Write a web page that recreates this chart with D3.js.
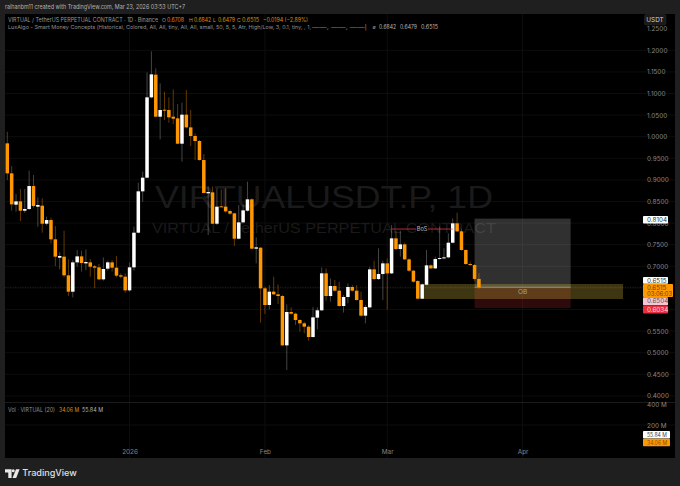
<!DOCTYPE html>
<html><head><meta charset="utf-8">
<script src="https://cdn.jsdelivr.net/npm/d3@7"></script>
<style>html,body{margin:0;padding:0;background:#1f1f1f}svg{display:block}text{font-family:Inter,"Liberation Sans",sans-serif}</style>
</head><body><svg id="c" width="680" height="486"></svg>
<script>
const startDate = "2025-12-04";
const opens = [.9846,.9152,.8426,.8503,.8287,.8326,.8858,.8380,.8403,.7986,.8071,.7624,.7199,.7223,.6791,.6412,.7091,.7230,.7068,.7091,.6999,.6976,.6698,.6945,.7091,.6968,.6791,.6760,.6443,.6976,.7778,.8735,.9051,1.0911,1.1436,1.0463,1.0625,1.0618,1.0463,1.0425,.9838,1.0510,1.0216,1.0016,.9900,.9460,.8689,.8712,.7986,.8388,.8380,.8280,.8226,.7639,.8017,.8287,.8550,.7408,.7431,.6490,.6104,.6413,.6351,.6312,.5170,.5942,.5903,.5757,.5680,.5602,.5363,.5811,.5981,.6837,.6312,.6544,.6436,.6081,.6289,.6521,.6436,.6220,.5857,.6049,.6929,.6705,.6821,.7068,.6836,.7647,.7400,.7508,.7161,.6898,.6659,.6250,.6574,.7022,.6952,.7168,.7184,.7207,.7546,.7994,.7809,.7377,.7053,.7029,.6708];
const highs = [1.0116,.9321,.8673,.8789,.8789,.9213,.9113,.8596,.8573,.8149,.8125,.7932,.7323,.7824,.7161,.7145,.7377,.7361,.7392,.7169,.7030,.7053,.7207,.7130,.7145,.7238,.6837,.6837,.7084,.7917,.8936,.9190,1.1490,1.1976,1.1582,1.1235,1.1042,1.0911,1.1096,1.0756,1.0787,1.1081,1.0618,1.0078,.9923,.9599,.8858,.8843,.8804,.8781,.8804,.8318,.8241,.8418,.8418,.8959,.8573,.7670,.7439,.6528,.6567,.6760,.6582,.6336,.6119,.6050,.5927,.5772,.5718,.5641,.6050,.6050,.6976,.6953,.6721,.6683,.6644,.6336,.6605,.6567,.6567,.6413,.6104,.6991,.7130,.7415,.7130,.7184,.7955,.7824,.7824,.7546,.7184,.6914,.6682,.6605,.7377,.7045,.7222,.7917,.7415,.7762,.8110,.8241,.7878,.7392,.7107,.7053,.6842];
const lows = [.8997,.8287,.8264,.8048,.8241,.8303,.8357,.7917,.7778,.7948,.7531,.7007,.6929,.6744,.6312,.6281,.6991,.6875,.6914,.6760,.6490,.6682,.6667,.6899,.6875,.6744,.6721,.6389,.6412,.6899,.7763,.8496,.9036,1.0888,1.0448,.9939,1.0386,1.0324,1.0294,.9831,.9422,1.0193,.9784,.9460,.9445,.8689,.7724,.7979,.7956,.8372,.8241,.8187,.7469,.7624,.7994,.8264,.7393,.7068,.5695,.5896,.6004,.6336,.6127,.5155,.4599,.5873,.5641,.5487,.5448,.5278,.5348,.5541,.5965,.6204,.6181,.6413,.6065,.5927,.6143,.6413,.6204,.5834,.5680,.6026,.6682,.6682,.6219,.6003,.6821,.7377,.7222,.7145,.6875,.6620,.6235,.6235,.6559,.6937,.6937,.7161,.7161,.7184,.7531,.7793,.7361,.7037,.7014,.6667,.6479];
const closes = [.9152,.8434,.8503,.8287,.8326,.8858,.8395,.8418,.7986,.8071,.7624,.7223,.7238,.6791,.6412,.7091,.7230,.7076,.7099,.6991,.6968,.6698,.6937,.7091,.6968,.6783,.6760,.6443,.6976,.7778,.8735,.9051,1.0911,1.1443,1.0463,1.0618,1.0610,1.0448,1.0417,.9838,1.0510,1.0216,1.0016,.9900,.9460,.8696,.8719,.7986,.8380,.8372,.8272,.8218,.7639,.8017,.8295,.8550,.7408,.7439,.6490,.6104,.6413,.6351,.6312,.5170,.5942,.5903,.5757,.5680,.5602,.5363,.5818,.5981,.6837,.6312,.6544,.6436,.6081,.6289,.6521,.6436,.6220,.5857,.6058,.6929,.6705,.6821,.7068,.6836,.7647,.7400,.7508,.7161,.6898,.6644,.6250,.6582,.7022,.6952,.7168,.7191,.7207,.7546,.7994,.7809,.7377,.7053,.7029,.6708,.6515];

const priceTicks = [1.25,1.2,1.15,1.1,1.05,1,.95,.9,.85,.8,.75,.7,.55,.5,.45,.4];
const gridPrices = [1.2,1.15,1.1,1.05,1,.95,.9,.85,.8,.75,.7,.65,.6,.55,.5,.45,.4];
const timeTicks = ["2026-01-01","2026-02-01","2026-03-01","2026-04-01"];
const timeLabels = ["2026","Feb","Mar","Apr"];
const volTicks = [400,200];

const boxFrom = "2026-03-21", boxTo = "2026-04-12";
const boxTop = .8104, boxMid = .6515, boxBottom = .6034;
const obFrom = "2026-03-09", obTo = "2026-04-24", obTop = .659, obBottom = .6243;
const bosFrom = "2026-03-02", bosTo = "2026-03-16", bosPrice = .7863;

const UP="#ffffff", DOWN="#ff9800", TXT="#858585";
const svg=d3.select("#c");
const parse=d3.utcParse("%Y-%m-%d");
const day=i=>d3.utcDay.offset(parse(startDate),i);
const candles=opens.map((o,i)=>({d:day(i),o,h:highs[i],l:lows[i],c:closes[i]}));

const x=d3.scaleUtc().domain([parse(startDate),parse("2026-04-01")]).range([7.3,522.6]);
const y=d3.scaleLinear().domain([1.2,.4]).range([50.3,395.9]);
const yv=d3.scaleLinear().domain([400,200]).range([404.5,425]);

const priceTags = [
 {t:"0.8104",top:216,h:7.5,w:25,bg:"#ffffff",fg:"#333"},
 {t:"0.6515",top:277,h:6.8,w:25,bg:"#ffffff",fg:"#333"},
 {t:"0.6504",top:297.2,h:8,w:25,bg:"#f5c6d6",fg:"#555"},
 {t:"0.6034",top:305.6,h:7.8,w:25,bg:"#e5303f",fg:"#ffd8d8"}
];

svg.append("rect").attr("width",680).attr("height",486).attr("fill","#1f1f1f");
svg.append("rect").attr("x",5).attr("y",14).attr("width",670).attr("height",444).attr("fill","#000");
svg.append("defs").append("clipPath").attr("id","pl").append("rect").attr("x",5).attr("y",14).attr("width",670).attr("height",444);
const g=svg.append("g").attr("clip-path","url(#pl)");

g.selectAll(".gh").data(gridPrices).join("line").attr("x1",5).attr("x2",675).attr("y1",d=>y(d)).attr("y2",d=>y(d)).attr("stroke","#101010").attr("stroke-width",.8);
g.selectAll(".gv").data(timeTicks).join("line").attr("x1",d=>x(parse(d))).attr("x2",d=>x(parse(d))).attr("y1",14).attr("y2",458).attr("stroke","#121212").attr("stroke-width",.8);
g.append("line").attr("x1",5).attr("x2",675).attr("y1",402.5).attr("y2",402.5).attr("stroke","#1b1b1b");
g.append("line").attr("x1",5).attr("x2",675).attr("y1",yv(200)).attr("y2",yv(200)).attr("stroke","#0e0e0e");

g.append("text").attr("x",155).attr("y",208).attr("font-size",32).attr("fill","#1a1a1a").attr("textLength",338).attr("lengthAdjust","spacingAndGlyphs").style("font-family","'Liberation Sans',sans-serif").text("VIRTUALUSDT.P, 1D");
g.append("text").attr("x",152).attr("y",232.5).attr("font-size",15).attr("fill","#1a1a1a").attr("textLength",344).attr("lengthAdjust","spacingAndGlyphs").style("font-family","'Liberation Sans',sans-serif").text("VIRTUAL / TetherUS PERPETUAL CONTRACT");

g.append("line").attr("x1",5).attr("x2",643).attr("y1",y(closes[closes.length-1])).attr("y2",y(closes[closes.length-1])).attr("stroke","#333").attr("stroke-width",.6).attr("stroke-dasharray","1 1.5");

const zx0=x(parse(boxFrom)), zx1=x(parse(boxTo));
g.append("rect").attr("x",zx0).attr("width",zx1-zx0).attr("y",y(boxTop)).attr("height",y(boxMid)-y(boxTop)).attr("fill","#ffffff").attr("opacity",.19);
g.append("rect").attr("x",zx0).attr("width",zx1-zx0).attr("y",y(boxMid)).attr("height",y(boxBottom)-y(boxMid)).attr("fill","#e5303f").attr("opacity",.2);
g.append("rect").attr("x",x(parse(obFrom))).attr("width",x(parse(obTo))-x(parse(obFrom))).attr("y",y(obTop)).attr("height",y(obBottom)-y(obTop)).attr("fill","#f5d742").attr("opacity",.25);
g.append("line").attr("x1",zx0).attr("x2",zx1).attr("y1",y(boxMid)).attr("y2",y(boxMid)).attr("stroke","#aaa").attr("stroke-width",.7);
g.append("text").attr("x",(x(parse(obFrom))+x(parse(obTo)))/2).attr("y",y((obTop+obBottom)/2)+2.4).attr("text-anchor","middle").attr("font-size",6.5).attr("fill","#a8a484").text("OB");

const cg=g.selectAll(".cd").data(candles).join("g");
cg.append("line").attr("x1",d=>x(d.d)).attr("x2",d=>x(d.d)).attr("y1",d=>y(d.h)).attr("y2",d=>y(d.l))
  .attr("stroke",d=>d.c>=d.o?UP:DOWN).attr("stroke-opacity",d=>d.c>=d.o?.3:.42).attr("stroke-width",.9);
cg.append("rect").attr("x",d=>x(d.d)-1.75).attr("width",3.5)
  .attr("y",d=>y(Math.max(d.o,d.c))).attr("height",d=>Math.max(1,Math.abs(y(d.o)-y(d.c))))
  .attr("fill",d=>d.c>=d.o?UP:DOWN);

const bx0=x(parse(bosFrom)), bx1=x(parse(bosTo)), bm=(bx0+bx1)/2;
g.append("line").attr("x1",bx0).attr("x2",bx1).attr("y1",y(bosPrice)).attr("y2",y(bosPrice)).attr("stroke","#d9394a").attr("stroke-width",.8);
g.append("rect").attr("x",bm-6).attr("width",12).attr("y",y(bosPrice)-3.5).attr("height",7).attr("fill","#000");
g.append("text").attr("x",bm).attr("y",y(bosPrice)+2.2).attr("text-anchor","middle").attr("font-size",5.6).attr("fill","#bdbdbd").text("BoS");

function style(a){a.select(".domain").remove();a.selectAll("line").remove();a.selectAll("text").attr("fill",TXT).attr("font-size",6.4).style("font-family","Inter,sans-serif");}
svg.append("g").attr("transform","translate(647,0)").call(d3.axisRight(y).tickValues(priceTicks).tickSize(0).tickPadding(0).tickFormat(d3.format(".4f"))).call(style);
svg.append("g").attr("transform","translate(647,0)").call(d3.axisRight(yv).tickValues(volTicks).tickSize(0).tickPadding(0).tickFormat(d=>d+" M")).call(style);
svg.append("g").attr("transform","translate(0,449)").call(d3.axisBottom(x).tickValues(timeTicks.map(parse)).tickSize(0).tickPadding(0).tickFormat((d,i)=>timeLabels[i])).call(style);

svg.append("rect").attr("x",644.5).attr("y",14.5).attr("width",21.5).attr("height",10.5).attr("rx",1.5).attr("fill","#1a1a1a").attr("stroke","#262626").attr("stroke-width",.6);
svg.append("text").attr("x",655).attr("y",21.8).attr("text-anchor","middle").attr("font-size",6.4).attr("fill","#cfcfcf").text("USDT");

const tags=svg.selectAll(".tg").data(priceTags).join("g");
tags.append("rect").attr("x",643).attr("width",d=>d.w).attr("y",d=>d.top).attr("height",d=>d.h).attr("rx",.8).attr("fill",d=>d.bg);
tags.append("text").attr("x",647).attr("y",d=>d.top+d.h/2+2.2).attr("font-size",6.3).attr("fill",d=>d.fg).text(d=>d.t);
svg.append("rect").attr("x",643).attr("y",284).attr("width",30).attr("height",13).attr("rx",.8).attr("fill","#ff9800");
svg.append("text").attr("x",647).attr("y",289.6).attr("font-size",6.2).attr("fill","#6a4000").text("0.6515");
svg.append("text").attr("x",647).attr("y",295.6).attr("font-size",5.8).attr("fill","#6a4000").text("03:06:03");
svg.append("rect").attr("x",643).attr("y",431).attr("width",27).attr("height",7.5).attr("rx",.8).attr("fill","#fff");
svg.append("text").attr("x",647).attr("y",437).attr("font-size",6).attr("fill","#444").attr("textLength",20).attr("lengthAdjust","spacingAndGlyphs").text("55.84 M");
svg.append("rect").attr("x",643).attr("y",438.7).attr("width",27).attr("height",7.5).attr("rx",.8).attr("fill","#ff9800");
svg.append("text").attr("x",647).attr("y",444.7).attr("font-size",6).attr("fill","#8a5000").attr("textLength",20).attr("lengthAdjust","spacingAndGlyphs").text("34.06 M");

const T=(s,xx,yy,fs,fill,len)=>{const t=svg.append("text").attr("x",xx).attr("y",yy).attr("font-size",fs).attr("fill",fill).text(s);if(len)t.attr("textLength",len).attr("lengthAdjust","spacingAndGlyphs");return t;};
T("raihanbm11 created with TradingView.com, Mar 23, 2026 03:53 UTC+7",5,9.3,6.3,"#b5b5b5",180);
T("VIRTUAL / TetherUS PERPETUAL CONTRACT · 1D · Binance",8,21.5,5.6,"#999",150);
[["O","0.6708",162],["H","0.6842",189],["L","0.6479",213],["C","0.6515",237]].forEach(a=>{T(a[0],a[2],21.5,5.2,"#999");T(a[1],a[2]+5,21.5,5.6,"#e08a08",17);});
T("−0.0194 (−2.89%)",263,21.5,5.6,"#e08a08",45);
T("LuxAlgo - Smart Money Concepts (Historical, Colored, All, All, tiny, All, All, small, 50, 5, 5, Atr, High/Low, 3, 0.1, tiny, , 1,",8,29.3,5.4,"#909090",303);
T("——, ——, ——|",312,29.3,5.4,"#909090",55);
T("ø",372.5,29.3,5.4,"#909090");
T("0.6842",379,29.3,5.6,"#b5b5b5",17);T("0.6479",400,29.3,5.6,"#b5b5b5",17);T("0.6515",421,29.3,5.6,"#b5b5b5",17);
T("Vol · VIRTUAL (20)",8,411.5,6,"#909090",47);
T("34.06 M",59,411.5,6,"#e08a08",20);T("55.84 M",82,411.5,6,"#b5b5b5",21);

const logo=svg.append("g").attr("fill","#e8e8e8");
logo.append("path").attr("d","M5 469.3h6.6v8.6H8.3v-5.4H5z");
logo.append("circle").attr("cx",13.2).attr("cy",470.8).attr("r",1.5);
logo.append("path").attr("d","M16 469.3h3.6l-3.4 8.6h-3.7z");
svg.append("text").attr("x",22.3).attr("y",476.4).attr("font-size",9).attr("font-weight",500).attr("fill","#e0e0e0").attr("textLength",54.5).attr("lengthAdjust","spacingAndGlyphs").text("TradingView");
</script></body></html>
